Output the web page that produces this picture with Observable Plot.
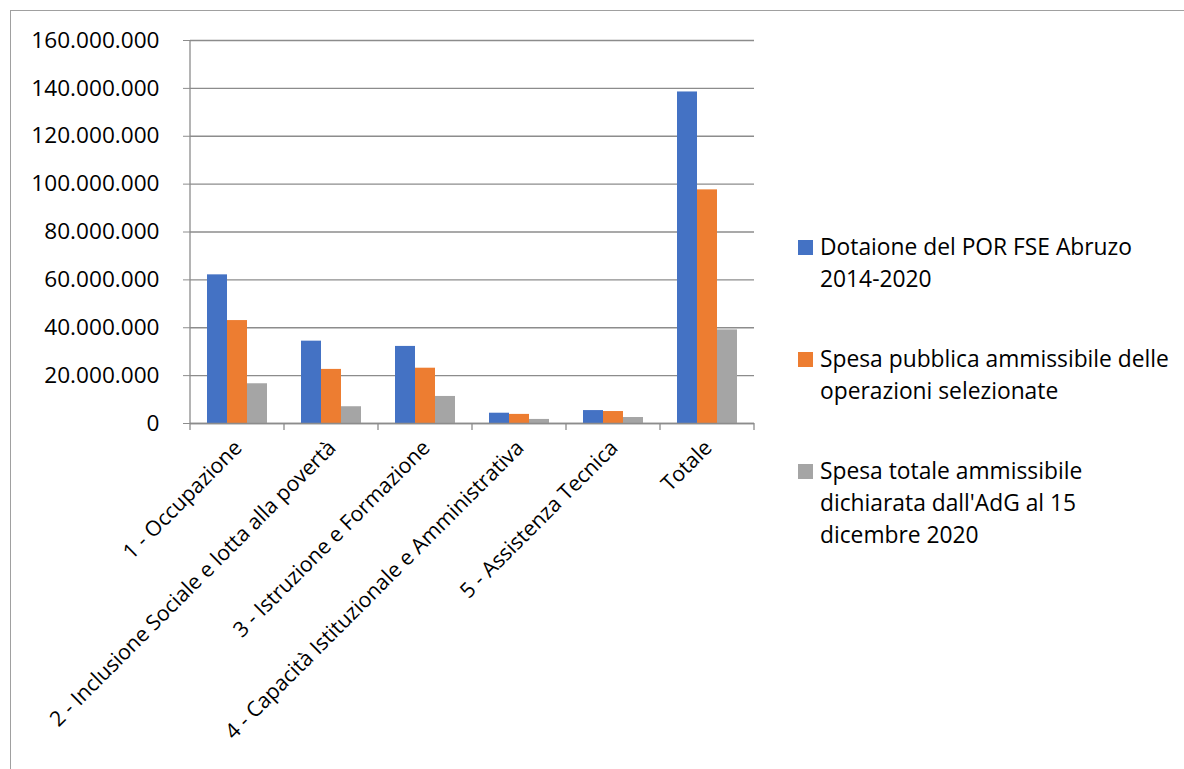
<!DOCTYPE html>
<html><head><meta charset="utf-8">
<script src="https://cdn.jsdelivr.net/npm/d3@7"></script>
<script src="https://cdn.jsdelivr.net/npm/@observablehq/plot@0.6"></script>
<style>
html,body{margin:0;padding:0;background:#fff;font-family:"Open Sans",sans-serif;overflow:hidden;}
#frame{position:absolute;left:10px;top:10px;width:1220px;height:820px;border:1px solid #a0a0a0;box-sizing:border-box;}
#chart{position:absolute;left:0;top:0;}
#legend{position:absolute;left:798px;top:231px;display:flex;flex-direction:column;gap:48px;font-size:22.8px;line-height:32px;color:#000;}
.item{display:flex;align-items:flex-start;}
.sw{width:15px;height:15px;margin-top:9px;margin-right:7px;flex:none;}
.lbl{white-space:pre;}
</style></head><body>
<div id="frame"></div>
<div id="chart"></div>
<div id="legend"></div>
<script>
const categories = [
  "1 - Occupazione",
  "2 - Inclusione Sociale e lotta alla povertà",
  "3 - Istruzione e Formazione",
  "4 - Capacità Istituzionale e Amministrativa",
  "5 - Assistenza Tecnica",
  "Totale"
];
const seriesNames = [
  "Dotaione del POR FSE Abruzo 2014-2020",
  "Spesa pubblica ammissibile delle operazioni selezionate",
  "Spesa totale ammissibile dichiarata dall'AdG al 15 dicembre 2020"
];
const legendLabels = [
  "Dotaione del POR FSE Abruzo\n2014-2020",
  "Spesa pubblica ammissibile delle\noperazioni selezionate",
  "Spesa totale ammissibile\ndichiarata dall'AdG al 15\ndicembre 2020"
];
const dotazione       = [62.1e6, 34.4e6, 32.2e6, 4.3e6, 5.4e6, 138.5e6];
const spesaPubblica   = [43.0e6, 22.6e6, 23.1e6, 3.8e6, 5.0e6, 97.6e6];
const spesaDichiarata = [16.6e6, 7.0e6, 11.3e6, 1.7e6, 2.5e6, 39.1e6];
const yTicks = [0, 20e6, 40e6, 60e6, 80e6, 100e6, 120e6, 140e6, 160e6];
const colors = ["#4472C4", "#ED7D31", "#A5A5A5"];

const seriesValues = [dotazione, spesaPubblica, spesaDichiarata];
const rows = categories.flatMap((c, i) =>
  seriesNames.map((s, j) => ({cat: c, series: s, value: seriesValues[j][i]})));

const fmt = d3.formatLocale({decimal: ",", thousands: ".", grouping: [3], currency: ["€", ""]}).format(",d");
const lineColor = "#8c8c8c";

const plot = Plot.plot({
  width: 760, height: 769,
  marginLeft: 187, marginRight: 4, marginTop: 40, marginBottom: 346,
  style: {fontFamily: "Open Sans", fontSize: "21px", color: "#000", background: "transparent", overflow: "visible"},
  fx: {domain: categories, padding: 0, axis: null, label: null},
  x: {domain: seriesNames, paddingInner: 0, paddingOuter: 0.755, axis: null, label: null},
  y: {domain: [0, 160e6], axis: null, label: null},
  color: {domain: seriesNames, range: colors},
  marks: [
    Plot.gridY(yTicks, {stroke: lineColor, strokeOpacity: 1, strokeWidth: 1.3}),
    Plot.axisY(yTicks, {tickSize: 7, tickPadding: 24, tickFormat: fmt, stroke: lineColor, fill: "#000", fontSize: 22.6, label: null}),
    Plot.barY(rows, {fx: "cat", x: "series", y: "value", fill: "series"}),
    Plot.ruleY([0], {stroke: lineColor, strokeWidth: 1.3}),
    Plot.text(categories, {fx: d => d, text: d => d, frameAnchor: "bottom", rotate: -45,
      textAnchor: "end", lineAnchor: "top", dy: 15, dx: -5, fontSize: 21.2, fill: "#000"})
  ]
});

// axis lines and category-boundary ticks drawn from the plot's own scales
const fxS = plot.scale("fx"), yS = plot.scale("y");
const svg = d3.select(plot);
const g = svg.append("g").attr("stroke", lineColor).attr("stroke-width", 1.3);
const y0 = yS.apply(0), yTop = yS.apply(160e6);
const x0 = fxS.apply(categories[0]);
g.append("line").attr("x1", x0).attr("x2", x0).attr("y1", yTop).attr("y2", y0);
const bounds = categories.map(c => fxS.apply(c)).concat([fxS.apply(categories[categories.length - 1]) + fxS.bandwidth]);
bounds.forEach(b => g.append("line").attr("x1", b).attr("x2", b).attr("y1", y0).attr("y2", y0 + 7));

document.getElementById("chart").appendChild(plot);

const legend = d3.select("#legend");
legendLabels.forEach((l, i) => {
  const it = legend.append("div").attr("class", "item");
  it.append("div").attr("class", "sw").style("background", colors[i]);
  it.append("div").attr("class", "lbl").text(l);
});
</script>
</body></html>
